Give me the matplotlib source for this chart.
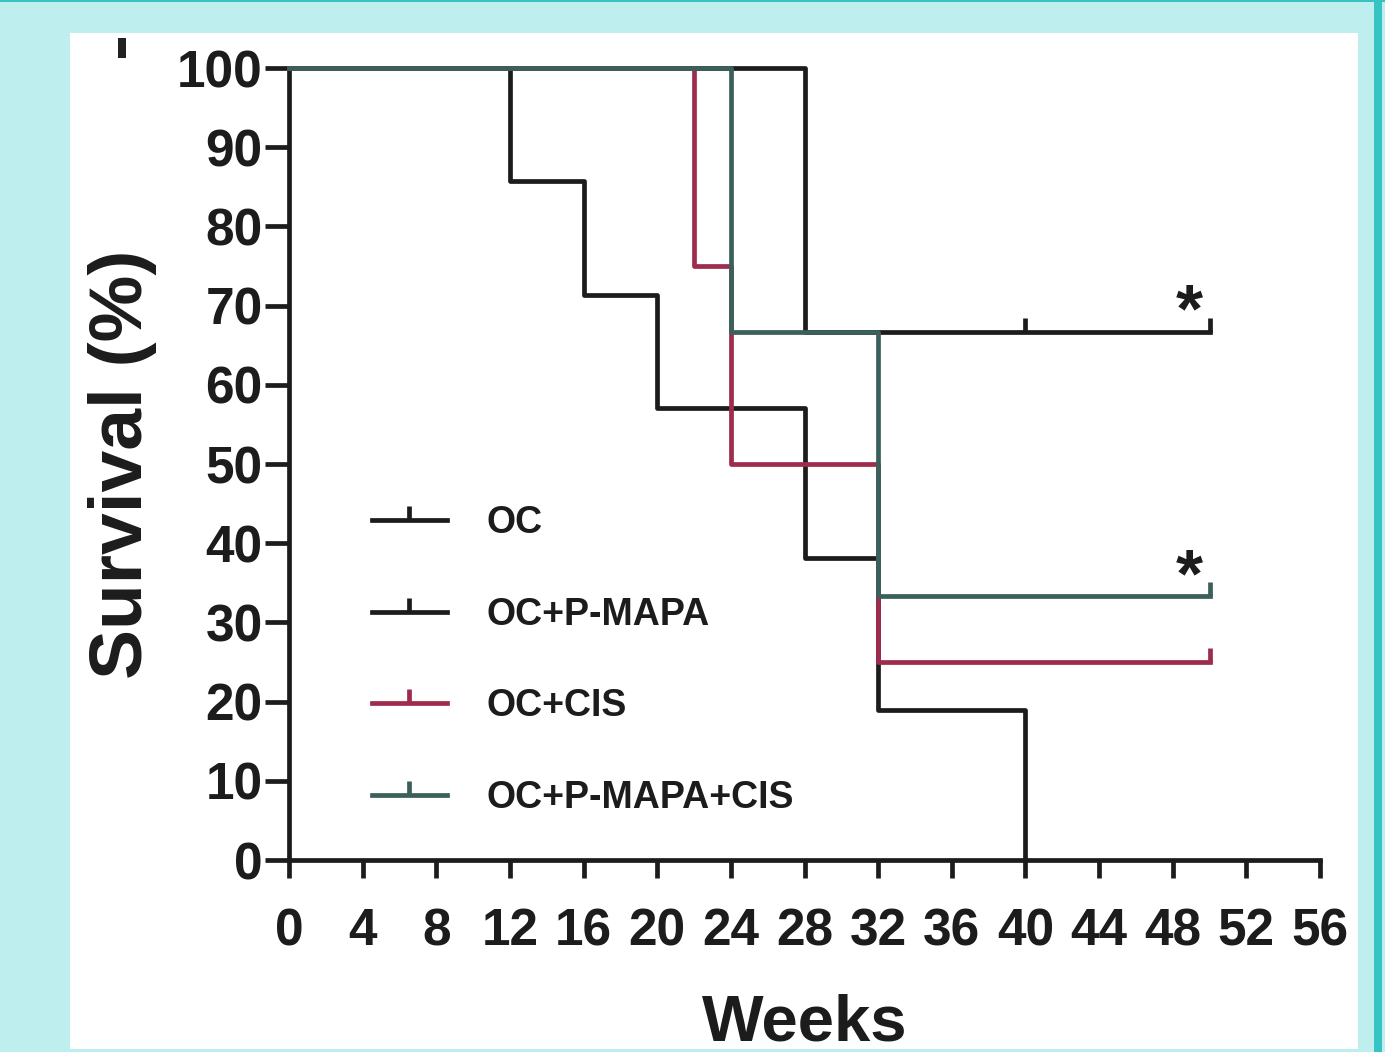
import matplotlib.pyplot as plt
from matplotlib.lines import Line2D
from matplotlib.patches import Rectangle
from matplotlib.markers import TICKUP

# Kaplan-Meier survival data (weeks, % survival)
groups = ['OC', 'OC+P-MAPA', 'OC+CIS', 'OC+P-MAPA+CIS']

oc_weeks = [0, 12, 16, 20, 28, 32, 40]
oc_surv = [100, 85.7, 71.4, 57.1, 38.1, 19.0, 0]

pmapa_weeks = [0, 28, 50]
pmapa_surv = [100, 66.7, 66.7]

cis_weeks = [0, 22, 24, 32, 50]
cis_surv = [100, 75, 50, 25, 25]

combo_weeks = [0, 24, 32, 50]
combo_surv = [100, 66.7, 33.3, 33.3]

# censored observations
censor_weeks = {'OC+P-MAPA': [40, 50], 'OC+CIS': [50], 'OC+P-MAPA+CIS': [50]}
censor_surv = {'OC+P-MAPA': [66.7, 66.7], 'OC+CIS': [25], 'OC+P-MAPA+CIS': [33.3]}

# groups marked significant
star_groups = ['OC+P-MAPA', 'OC+P-MAPA+CIS']

x_ticks = list(range(0, 57, 4))
y_ticks = list(range(0, 101, 10))

colors = {'OC': '#1c1c1c', 'OC+P-MAPA': '#1c1c1c',
          'OC+CIS': '#9e2c4c', 'OC+P-MAPA+CIS': '#3b5f5a'}
data = {'OC': (oc_weeks, oc_surv), 'OC+P-MAPA': (pmapa_weeks, pmapa_surv),
        'OC+CIS': (cis_weeks, cis_surv), 'OC+P-MAPA+CIS': (combo_weeks, combo_surv)}

sans = ['Liberation Sans', 'DejaVu Sans']

fig = plt.figure(figsize=(13.85, 10.52), dpi=100, facecolor='#bfeeee')
# white panel of the original figure
fig.patches.append(Rectangle((70 / 1385, 3 / 1052), 1288 / 1385, 1016 / 1052,
                             transform=fig.transFigure, facecolor='white',
                             edgecolor='none', zorder=-3))
fig.patches.append(Rectangle((1374 / 1385, 0), 8 / 1385, 1,
                             transform=fig.transFigure, facecolor='#35c4c2',
                             edgecolor='none', zorder=-3))
fig.patches.append(Rectangle((0, 1050 / 1052), 1, 2 / 1052,
                             transform=fig.transFigure, facecolor='#35c4c2',
                             edgecolor='none', zorder=-3))
fig.patches.append(Rectangle((118 / 1385, 994 / 1052), 8 / 1385, 20 / 1052,
                             transform=fig.transFigure, facecolor='#222222',
                             edgecolor='none', zorder=-2))

ax = fig.add_axes([289 / 1385, 192 / 1052, 1031 / 1385, 792 / 1052])
ax.set_facecolor('none')
ax.set_zorder(2)

for g in groups:
    w, s = data[g]
    ax.step(w, s, where='post', color=colors[g], lw=3.4, clip_on=False, zorder=3)
    if g in censor_weeks:
        ax.plot(censor_weeks[g], censor_surv[g], ls='none', marker=TICKUP,
                ms=10, mew=3.4, color=colors[g], clip_on=False, zorder=3)

for g in star_groups:
    ax.text(48.9, censor_surv[g][-1], '*', ha='center', va='baseline',
            fontsize=50, fontweight='bold', family=sans, color='#1c1c1c')

ax.set_xlim(0, 56)
ax.set_ylim(0, 100)
ax.set_xticks(x_ticks)
ax.set_yticks(y_ticks)
for sp in ['top', 'right']:
    ax.spines[sp].set_visible(False)
for sp in ['left', 'bottom']:
    ax.spines[sp].set_linewidth(3.4)
    ax.spines[sp].set_color('#1c1c1c')

ax.tick_params(axis='y', length=17, width=3.4, pad=2, color='#1c1c1c')
ax.tick_params(axis='x', length=13, width=3.4, pad=21, color='#1c1c1c')
for lab in ax.get_xticklabels() + ax.get_yticklabels():
    lab.set_fontfamily(sans)
    lab.set_fontweight('bold')
    lab.set_fontsize(37)
    lab.set_color('#1c1c1c')

ax.set_xlabel('Weeks', fontsize=47, fontweight='bold', family=sans,
              labelpad=27, color='#1c1c1c')
ax.set_ylabel('Survival (%)', fontsize=54, fontweight='bold', family=sans,
              labelpad=14, color='#1c1c1c')

handles = [Line2D([], [], color=colors[g], lw=3.4, marker=TICKUP, ms=10, mew=3.4)
           for g in groups]
leg = ax.legend(handles, groups, loc='upper left', bbox_to_anchor=(0.0805, 0.448),
                frameon=False, numpoints=1, handlelength=2.0, handletextpad=1.05,
                labelspacing=1.48, borderpad=0, borderaxespad=0,
                prop={'family': sans, 'weight': 'bold', 'size': 27})
for t in leg.get_texts():
    t.set_color('#1c1c1c')

plt.savefig('out.png', dpi=100, facecolor=fig.get_facecolor())
